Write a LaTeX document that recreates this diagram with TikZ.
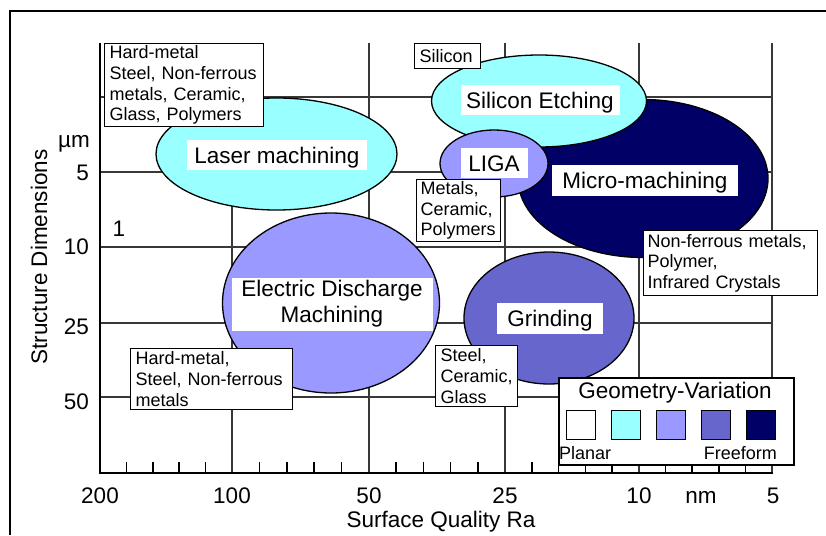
\documentclass[tikz,border=0pt]{standalone}
\usepackage{fontspec}
\setmainfont{Liberation Sans}
\usetikzlibrary{shapes.geometric}
\definecolor{cyanf}{HTML}{99FFFF}
\definecolor{lpurp}{HTML}{9999FF}
\definecolor{mpurp}{HTML}{6666CC}
\definecolor{navyf}{HTML}{000066}
\begin{document}
\begin{tikzpicture}[x=1pt,y=-1pt,
  big/.style={font=\fontsize{22.5}{26}\selectfont},
  small/.style={font=\fontsize{18}{20.6}\selectfont},
  gridline/.style={line width=1.6pt, draw=black!78},
  axisline/.style={line width=2pt, draw=black},
  blob/.style={ellipse, draw=black, line width=1.3pt, inner sep=0pt},
  tag/.style={fill=white, big, inner sep=0pt, align=center},
  onetag/.style={tag, text height=16pt, text depth=0pt},
  matbox/.style={draw=black, line width=1.2pt, fill=white, small, align=left, inner xsep=5pt, inner ysep=0pt, anchor=north west},
  swatch/.style={draw=black, line width=1.8pt, minimum size=29pt, inner sep=0pt},
  ticklab/.style={big, inner sep=0pt},
]
\useasboundingbox (0,0) rectangle (826,535);
\fill[white] (0,0) rectangle (826,535);
% outer frame
\draw[line width=1.5pt] (10,535) -- (10,11) -- (826,11);
% grid
\foreach \x in {232,369,505,639,772} \draw[gridline] (\x,43) -- (\x,473);
\foreach \y in {97,172,247,323,397} \draw[gridline] (100,\y) -- (772,\y);
\draw[axisline] (100,43) -- (100,473) -- (773,473);
\foreach \a/\b in {100/232,232/369,369/505,505/639,639/772}
  \foreach \k in {1,...,4}
    \draw[line width=1.5pt] ({\a+\k*(\b-\a)/5},473) -- ++(0,-11);
% axis labels
\node[ticklab] (x200) at (100,496) {200};
\node[ticklab] (x100) at (232,496) {100};
\node[ticklab] (x50) at (369,496) {50};
\node[ticklab] (x25) at (505,496) {25};
\node[ticklab] (x10) at (639,496) {10};
\node[ticklab] (xnm) at (701,497) {nm};
\node[ticklab] (x5) at (773,496) {5};
\node[ticklab, anchor=east] (yum) at (90,144) {µm};
\node[ticklab, anchor=east] (y5) at (89,173) {5};
\node[ticklab, anchor=east] (y10) at (89,247) {10};
\node[ticklab, anchor=east] (y25) at (89,327) {25};
\node[ticklab, anchor=east] (y50) at (89,402) {50};
\node[ticklab] (one) at (119,229) {1};
\node[ticklab, rotate=90] (ylab) at (39,257) {Structure Dimensions};
\node[ticklab] (xlab) at (441,522) {Surface Quality Ra};
% ellipses
\node[blob, fill=cyanf, minimum width=241pt, minimum height=112pt] (laser) at (276.5,154) {};
\node[blob, fill=navyf, minimum width=250pt, minimum height=158pt] (micro) at (643,178.5) {};
\node[blob, fill=cyanf, minimum width=215pt, minimum height=92pt] (sietch) at (539,101) {};
\node[blob, fill=lpurp, minimum width=108pt, minimum height=67pt] (liga) at (494,163.5) {};
\node[blob, fill=lpurp, minimum width=217pt, minimum height=180pt] (edm) at (331,303) {};
\node[blob, fill=mpurp, minimum width=170pt, minimum height=132pt] (grind) at (549,318) {};
% ellipse labels
\node[onetag, minimum width=180pt, minimum height=30pt] (laserT) at (277,155) {Laser machining};
\node[onetag, minimum width=159pt, minimum height=30pt] (sietchT) at (540,100) {Silicon Etching};
\node[onetag, minimum width=67pt, minimum height=30pt] (ligaT) at (494,163) {LIGA};
\node[onetag, minimum width=186pt, minimum height=31pt] (microT) at (645,180) {Micro-machining};
\node[tag, minimum width=201pt, minimum height=53pt] (edmT) at (332,304) {Electric Discharge\\Machining};
\node[onetag, minimum width=106pt, minimum height=31pt] (grindT) at (550,318.5) {Grinding};
% material boxes
\node[matbox, text width=149pt, minimum height=83pt] (matA) at (104,43) {Hard-metal\\Steel, Non-ferrous\\metals, Ceramic,\\Glass, Polymers};
\node[matbox, text width=56pt, minimum height=25pt] (matB) at (414,43) {Silicon};
\node[matbox, inner xsep=4pt, text width=76pt, minimum height=62pt] (matC) at (416,179) {Metals,\\Ceramic,\\Polymers};
\node[matbox, inner xsep=4pt, text width=166pt, minimum height=65pt] (matD) at (643,230) {Non-ferrous metals,\\Polymer,\\Infrared Crystals};
\node[matbox, text width=152pt, minimum height=61pt] (matE) at (130,348) {Hard-metal,\\Steel, Non-ferrous\\metals};
\node[matbox, text width=72pt, minimum height=61pt] (matF) at (435,345) {Steel,\\Ceramic,\\Glass};
% legend
\node[draw=black, line width=1.5pt, fill=white, minimum width=235pt, minimum height=87pt, inner sep=0pt, anchor=north west] (legend) at (558,377) {};
\node[ticklab] (legT) at (675,393) {Geometry-Variation};
\node[swatch, fill=white] (sw1) at (581,425) {};
\node[swatch, fill=cyanf] (sw2) at (626,425) {};
\node[swatch, fill=lpurp] (sw3) at (671,425) {};
\node[swatch, fill=mpurp] (sw4) at (716,425) {};
\node[swatch, fill=navyf] (sw5) at (761,425) {};
\node[small, inner sep=0pt, anchor=west] (planar) at (559,453) {Planar};
\node[small, inner sep=0pt, anchor=east] (freeform) at (777,453) {Freeform};
\end{tikzpicture}
\end{document}
